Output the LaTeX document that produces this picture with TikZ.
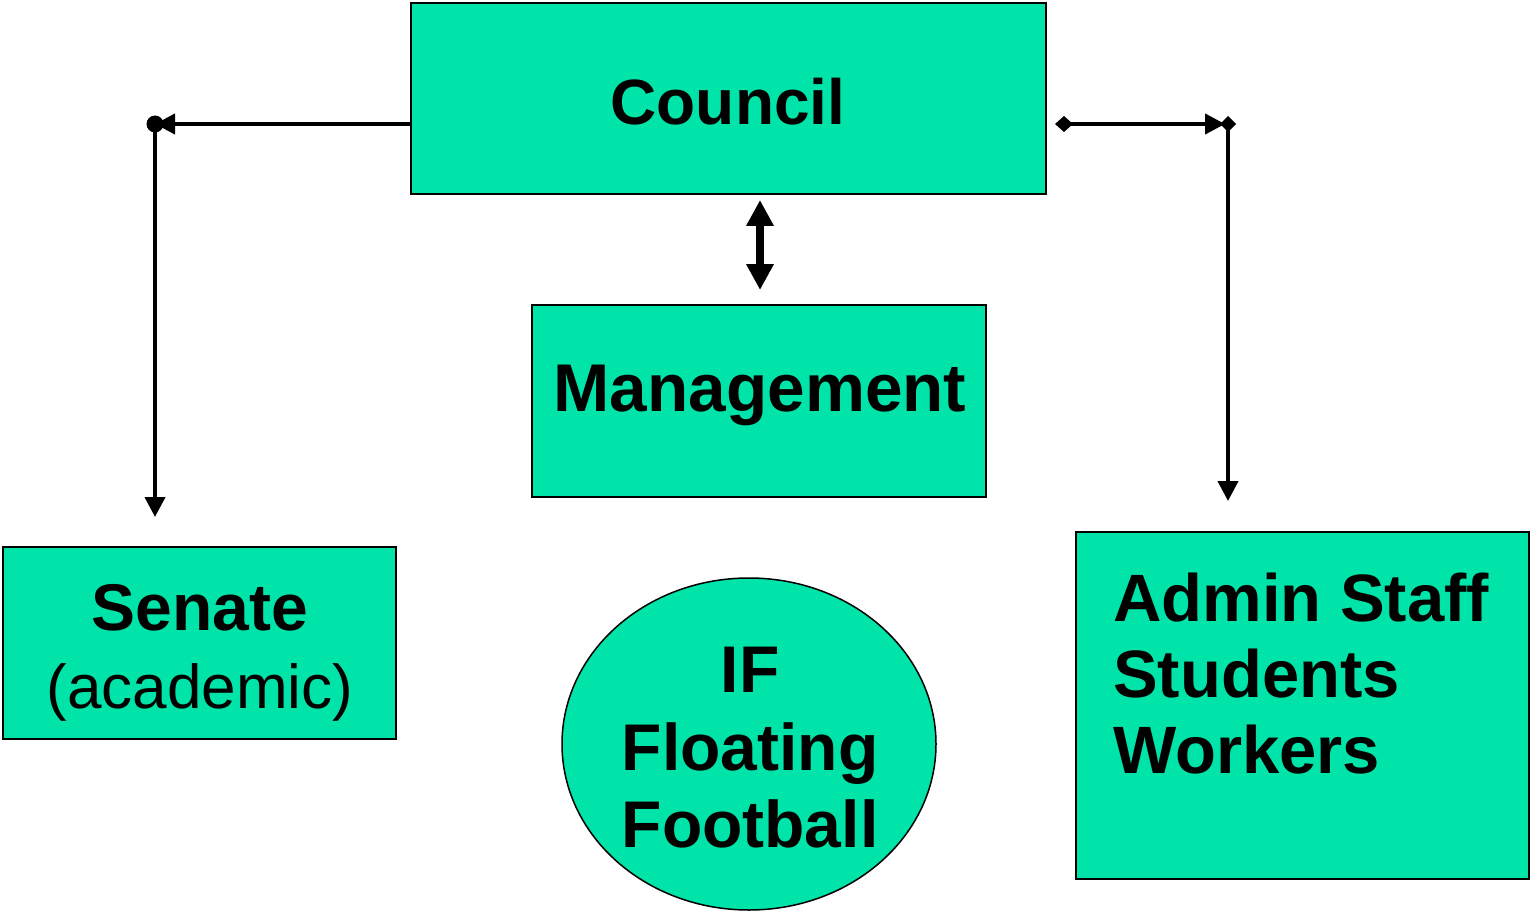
\documentclass[tikz,border=0pt]{standalone}
\usepackage{fontspec}
\setmainfont{Liberation Sans}
\usetikzlibrary{arrows.meta}
\definecolor{boxfill}{HTML}{00E3A9}
\begin{document}
\begin{tikzpicture}[x=1pt,y=-1pt,
  box/.style={draw=black,line width=1.5pt,fill=boxfill,inner sep=0pt},
  bigb/.style={font=\fontsize{66}{78}\selectfont\bfseries,inner sep=0pt},
  bigr/.style={font=\fontsize{62}{78}\selectfont,inner sep=0pt},
  conn/.style={line width=4pt},
  tipA/.style={-{Triangle[length=20pt,width=20pt]}},
]
\useasboundingbox (0,0) rectangle (1531,912);
% boxes
\node[box,minimum width=635pt,minimum height=191pt] (council) at (728.5,98.5) {};
\node[bigb,anchor=base,font=\fontsize{64}{78}\selectfont\bfseries] (councilt) at (728,125) {Council};
\node[box,minimum width=454pt,minimum height=192pt] (mgmt) at (759,401) {};
\node[bigb,anchor=base,font=\fontsize{67.5}{78}\selectfont\bfseries] (mgmtt) at (760,411) {Management};
\node[box,minimum width=393pt,minimum height=192pt] (senate) at (199.5,643) {};
\node[bigb,anchor=base] (senatet) at (200,630) {Senate};
\node[bigr,anchor=base] (acad) at (200,708) {(academic)};
\node[box,minimum width=453pt,minimum height=347pt] (admin) at (1302.5,705.5) {};
\node[bigb,anchor=base west,font=\fontsize{67}{78}\selectfont\bfseries] (admin1) at (1113,621) {Admin Staff};
\node[bigb,anchor=base west,font=\fontsize{67}{78}\selectfont\bfseries] (admin2) at (1113,697) {Students};
\node[bigb,anchor=base west,font=\fontsize{67}{78}\selectfont\bfseries] (admin3) at (1113,773) {Workers};
\draw[box] (749,744) ellipse [x radius=187, y radius=166];
\node[bigb,anchor=base] (if1) at (750,692) {IF};
\node[bigb,anchor=base] (if2) at (750,770) {Floating};
\node[bigb,anchor=base] (if3) at (750,847) {Football};
% coordinates
\coordinate (lc) at (155,124);
\coordinate (lend) at (155,517);
\coordinate (rs) at (1055,124);
\coordinate (rc) at (1228,124);
\coordinate (rend) at (1228,501);
\coordinate (mtop) at (760,200);
\coordinate (mbot) at (760,290);
% left connector
\draw[conn,tipA] (council.west |- lc) -- (lc);
\fill (lc) circle (8.5);
\draw[conn,tipA] (lc) -- (lend);
% right connector
\draw[conn,{Diamond[length=18pt,width=16pt]}-{Triangle[length=20pt,width=20pt]}] (rs) -- ([xshift=-3pt]rc);
\fill (rc) ++(-8,0) -- ++(8,-8) -- ++(8,8) -- ++(-8,8) -- cycle;
\draw[conn,tipA] (rc) -- (rend);
% middle double arrow
\draw[line width=8pt,{Triangle[length=26pt,width=26pt]}-{Triangle[length=26pt,width=26pt]}] (mtop) -- (mbot);
\end{tikzpicture}
\end{document}
